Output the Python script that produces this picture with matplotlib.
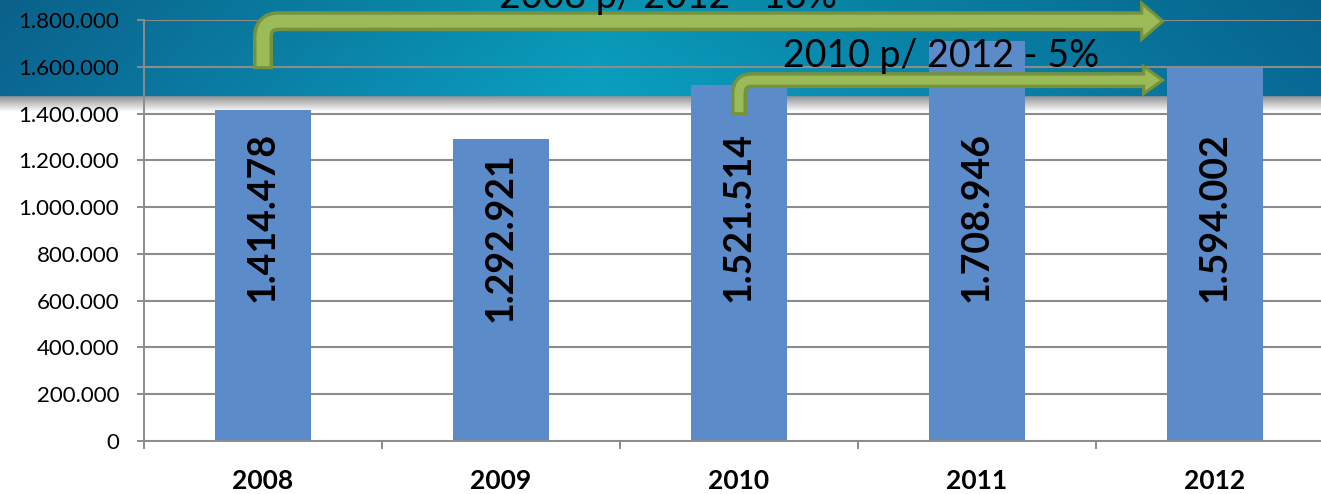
import matplotlib
matplotlib.use("Agg")
import matplotlib.pyplot as plt
import numpy as np
from matplotlib.path import Path
from matplotlib.patches import PathPatch, Polygon
from matplotlib.transforms import IdentityTransform

plt.rcParams['font.family'] = ['Lato', 'DejaVu Sans']

years = ['2008', '2009', '2010', '2011', '2012']
values = [1414478, 1292921, 1521514, 1708946, 1594002]
yticks = [0, 200000, 400000, 600000, 800000, 1000000, 1200000, 1400000, 1600000, 1800000]

# bent arrows: (stem category, stem bottom value, horizontal level value, tip category)
arrow_long = (0, 1590000, 1795000, 3.78)
arrow_short = (2, 1393000, 1543000, 3.78)
text_long = '2008 p/ 2012 - 13%'
text_short = '2010 p/ 2012 - 5%'

BAR = '#5b8bc8'
GRID = '#8c8c8c'
OLIVE = '#76923c'
LIGHT = '#9bbb59'


def fmt(v):
    return f'{v:,}'.replace(',', '.')


fig = plt.figure(figsize=(13.21, 4.94), dpi=100)

# background: teal banner on top with a grey shadow underneath
H, W = 494, 330
img = np.ones((H, W, 3))
xs = np.linspace(0, 1, W)
left, mid, right = np.array([11, 104, 148]), np.array([10, 160, 192]), np.array([8, 106, 150])
row = np.where(xs[:, None] < 0.45,
               left + (mid - left) * (xs[:, None] / 0.45),
               mid + (right - mid) * ((xs[:, None] - 0.45) / 0.55)) / 255.0
for r in range(97):
    img[r] = row * (0.93 + 0.07 * r / 97)
for r in range(97, 112):
    g = 150 + (255 - 150) * (r - 97) / 15
    img[r] = g / 255.0
bg = fig.add_axes([0, 0, 1, 1], zorder=-1)
bg.imshow(img, extent=[0, 1, 0, 1], aspect='auto', interpolation='bilinear')
bg.axis('off')

ax = fig.add_axes([144 / 1321, 53 / 494, 1190 / 1321, 421 / 494])
ax.set_facecolor('none')
x = np.arange(len(years))
ax.bar(x, values, width=0.4, color=BAR, zorder=2)
ax.set_xlim(-0.5, 4.5)
ax.set_ylim(0, 1800000)

ax.set_yticks(yticks)
ax.set_yticklabels([fmt(v) for v in yticks], fontsize=16)
ax.yaxis.grid(True, color=GRID, linewidth=1.5, zorder=0)
ax.set_axisbelow(True)
ax.tick_params(axis='y', length=5, width=1.4, color=GRID, pad=13)

ax.set_xticks(x)
ax.set_xticklabels(years, fontsize=19, fontweight='bold')
ax.set_xticks(np.arange(-0.5, 5, 1), minor=True)
ax.tick_params(axis='x', which='major', length=0, pad=20)
ax.tick_params(axis='x', which='minor', length=6, width=1.4, color=GRID)

for s in ['top', 'right']:
    ax.spines[s].set_visible(False)
for s in ['left', 'bottom']:
    ax.spines[s].set_color(GRID)
    ax.spines[s].set_linewidth(1.4)

for xi, v in zip(x, values):
    top = min(v - 60000, 1320000)
    ax.text(xi, top, fmt(v), rotation=90, ha='center', va='top',
            fontsize=27, fontweight='bold', color='black', zorder=4)


def bent_arrow(spec, shaft_px, head_h, head_l, radius):
    cx, ybot, ylev, tipx = spec
    p0 = ax.transData.transform((cx, ybot))
    p1 = ax.transData.transform((tipx, ylev))
    sx, by = p0
    tx, hy = p1
    base = tx - head_l
    ident = IdentityTransform()

    def shaft(start, end):
        verts = [(sx, start), (sx, hy - radius), (sx, hy), (sx + radius, hy), (end, hy)]
        codes = [Path.MOVETO, Path.LINETO, Path.CURVE3, Path.CURVE3, Path.LINETO]
        return Path(verts, codes)

    outer = PathPatch(shaft(by, base), fill=False, edgecolor=OLIVE,
                      linewidth=shaft_px * 0.72, capstyle='butt', joinstyle='round',
                      transform=ident, clip_on=False, zorder=5)
    ax.add_patch(outer)
    head = Polygon([(base, hy + head_h / 2), (tx, hy), (base, hy - head_h / 2)],
                   closed=True, facecolor=LIGHT, edgecolor=OLIVE, linewidth=2.2,
                   joinstyle='miter', transform=ident, clip_on=False, zorder=6)
    ax.add_patch(head)
    inner = PathPatch(shaft(by + 3, base + 3), fill=False, edgecolor=LIGHT,
                      linewidth=(shaft_px - 7) * 0.72, capstyle='butt', joinstyle='round',
                      transform=ident, clip_on=False, zorder=7)
    ax.add_patch(inner)


bent_arrow(arrow_long, 20, 36, 21, 16)
bent_arrow(arrow_short, 16, 27, 19, 13)

ax.text(1.70, 1850000, text_long, ha='center', va='baseline', fontsize=27,
        color='black', zorder=8, clip_on=False)
ax.text(2.85, 1600000, text_short, ha='center', va='baseline', fontsize=27,
        color='black', zorder=8, clip_on=False)

fig.savefig('out.png', dpi=100)
